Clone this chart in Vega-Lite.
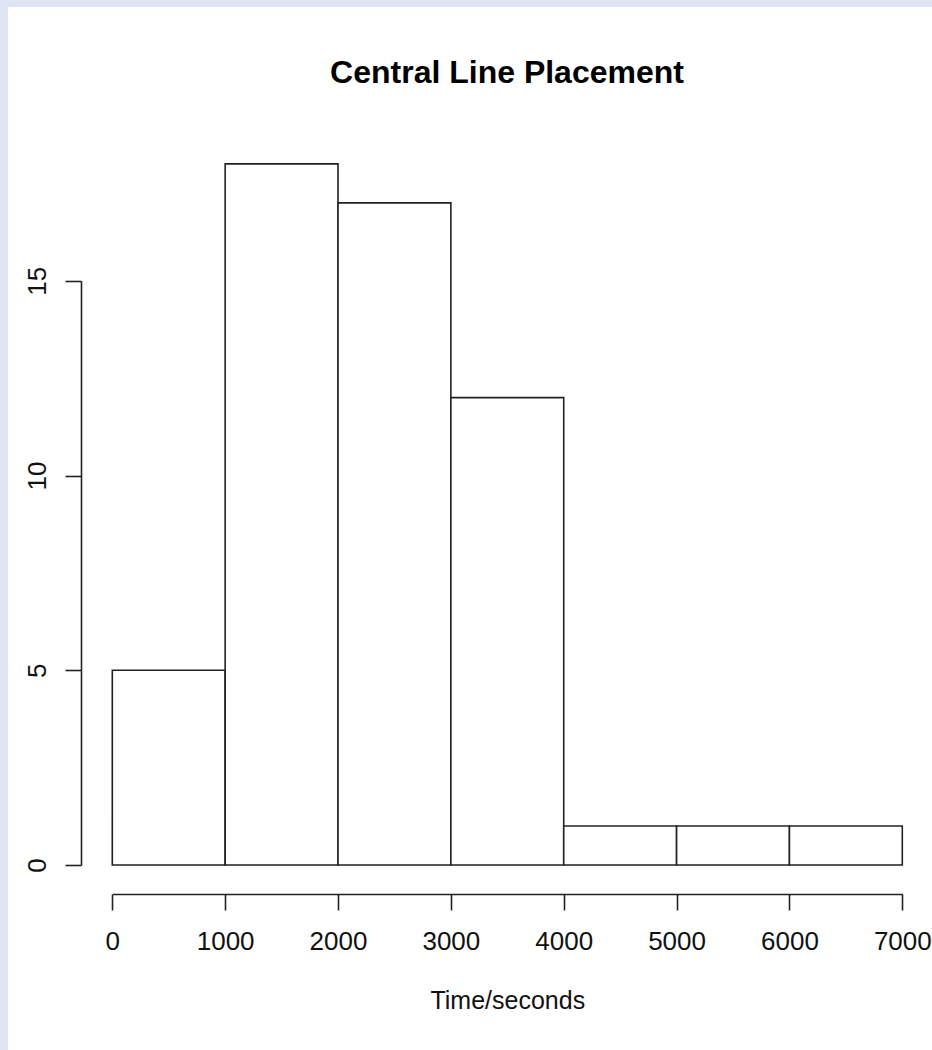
{
  "$schema": "https://vega.github.io/schema/vega-lite/v6.json",
  "autosize": "none",
  "padding": {"left": 8, "top": 7, "right": 0, "bottom": 0},
  "width": 924,
  "height": 1043,
  "background": "#dfe4f2",
  "title": {
    "text": "Central Line Placement",
    "font": "Liberation Sans",
    "fontSize": 32,
    "fontWeight": "bold",
    "color": "#000000",
    "anchor": "middle",
    "frame": "group",
    "baseline": "alphabetic",
    "offset": 0,
    "dx": 37,
    "dy": 108
  },
  "data": {
    "values": [
      {"bin_start": 0, "bin_end": 1000, "count": 5},
      {"bin_start": 1000, "bin_end": 2000, "count": 18},
      {"bin_start": 2000, "bin_end": 3000, "count": 17},
      {"bin_start": 3000, "bin_end": 4000, "count": 12},
      {"bin_start": 4000, "bin_end": 5000, "count": 1},
      {"bin_start": 5000, "bin_end": 6000, "count": 1},
      {"bin_start": 6000, "bin_end": 7000, "count": 1}
    ]
  },
  "mark": {"type": "rect", "fill": "#ffffff", "stroke": "#222222", "strokeWidth": 1.6},
  "encoding": {
    "x": {
      "field": "bin_start",
      "type": "quantitative",
      "scale": {"domain": [0, 7000], "range": [104.3, 894.3], "nice": false, "zero": false},
      "axis": {
        "orient": "bottom",
        "offset": -156,
        "values": [0, 1000, 2000, 3000, 4000, 5000, 6000, 7000],
        "format": "d",
        "title": "Time/seconds",
        "titlePadding": 34,
        "titleFontSize": 25,
        "titleFontWeight": "normal",
        "labelPadding": 18
      }
    },
    "x2": {"field": "bin_end"},
    "y": {
      "field": "count",
      "type": "quantitative",
      "scale": {"domain": [0, 15], "range": [858, 273.75], "nice": false, "zero": true},
      "axis": {
        "orient": "left",
        "offset": -73,
        "values": [0, 5, 10, 15],
        "format": "d",
        "title": null,
        "labelAngle": -90,
        "labelAlign": "center",
        "labelBaseline": "bottom",
        "labelPadding": 15
      }
    },
    "y2": {"datum": 0}
  },
  "config": {
    "view": {"fill": "#ffffff", "stroke": null},
    "axis": {
      "grid": false,
      "domainColor": "#222222",
      "domainWidth": 1.6,
      "tickColor": "#222222",
      "tickWidth": 1.6,
      "tickSize": 16,
      "labelFont": "Liberation Sans",
      "labelFontSize": 26,
      "labelColor": "#111111",
      "titleFont": "Liberation Sans",
      "titleColor": "#111111",
      "labelOverlap": false,
      "labelFlush": false
    }
  }
}
